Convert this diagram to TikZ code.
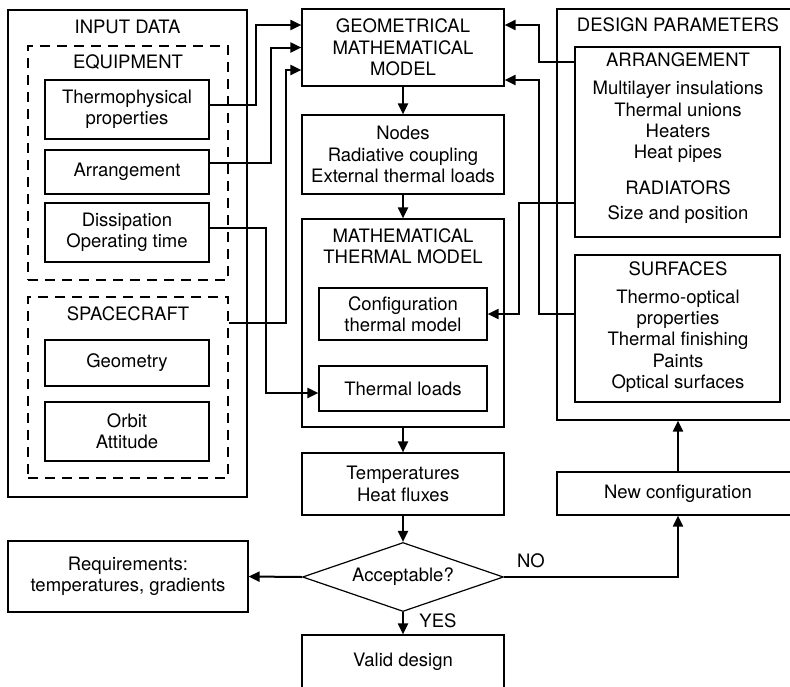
\documentclass[tikz,border=0pt]{standalone}
\usepackage{fontspec}
\setmainfont{TeX Gyre Heros}
\usetikzlibrary{shapes.geometric,arrows.meta,calc}
\newcommand\fsz{\fontsize{18.5}{21.3}\selectfont}
\begin{document}
\begin{tikzpicture}[x=1pt,y=-1pt,
  bx/.style={draw,line width=1.2pt,inner sep=0pt,align=center,font=\fsz},
  dbx/.style={bx,dash pattern=on 10pt off 7pt},
  txt/.style={inner sep=0pt,align=center,font=\fsz},
  arr/.style={line width=2pt,-{Triangle[length=11pt,width=10pt]}},
  ln/.style={line width=2pt}]
\useasboundingbox (0,0) rectangle (790,686);
% ---------- INPUT DATA ----------
\node[bx,minimum width=239pt,minimum height=487pt] (input) at (127.5,253.5) {};
\node[txt] (inputT) at (127.5,27) {INPUT DATA};
\node[dbx,minimum width=200pt,minimum height=234pt] (equip) at (128,163) {};
\node[txt] (equipT) at (128,62) {EQUIPMENT};
\node[bx,minimum width=164pt,minimum height=59pt] (thermo) at (127,109.5) {Thermophysical\\properties};
\node[bx,minimum width=164pt,minimum height=44pt] (arrang) at (127,172) {Arrangement};
\node[bx,minimum width=164pt,minimum height=59pt] (dissip) at (127,232.5) {Dissipation\\Operating time};
\node[dbx,minimum width=200pt,minimum height=181pt] (space) at (128,387.5) {};
\node[txt] (spaceT) at (128,314) {SPACECRAFT};
\node[bx,minimum width=164pt,minimum height=46pt] (geom) at (127,363) {Geometry};
\node[bx,minimum width=164pt,minimum height=59pt] (orbit) at (127,431.5) {Orbit\\Attitude};
% ---------- centre column ----------
\node[bx,minimum width=202pt,minimum height=77pt] (gmm) at (403,47.5) {GEOMETRICAL\\MATHEMATICAL\\MODEL};
\node[bx,minimum width=202pt,minimum height=79pt] (nodes) at (403,154.5) {Nodes\\Radiative coupling\\External thermal loads};
\node[bx,minimum width=202pt,minimum height=208pt] (mtm) at (403,323) {};
\node[txt] (mtmT) at (403,246) {MATHEMATICAL\\THERMAL MODEL};
\node[bx,minimum width=168pt,minimum height=52pt] (config) at (403,314) {Configuration\\thermal model};
\node[bx,minimum width=168pt,minimum height=45pt] (tloads) at (403,388.5) {Thermal loads};
\node[bx,minimum width=202pt,minimum height=62pt] (temps) at (403,484) {Temperatures\\Heat fluxes};
\node[draw,line width=1.2pt,diamond,inner sep=0pt,aspect=2.9,minimum width=201pt,minimum height=69pt,font=\fsz] (dia) at (403,577) {Acceptable?};
\node[bx,minimum width=240pt,minimum height=71pt] (req) at (128,576.5) {Requirements:\\temperatures, gradients};
\node[bx,minimum width=202pt,minimum height=62pt] (valid) at (403,666) {};
\node[txt] (validT) at (403,662) {Valid design};
% ---------- DESIGN PARAMETERS ----------
\node[bx,minimum width=242pt,minimum height=411pt] (dp) at (678,214.5) {};
\node[txt] (dpT) at (678,25) {DESIGN PARAMETERS};
\node[bx,minimum width=205pt,minimum height=190pt] (arrbox) at (677.5,142) {};
\node[txt] (arrT) at (678,60) {ARRANGEMENT};
\node[txt] (arrL) at (678,122) {Multilayer insulations\\Thermal unions\\Heaters\\Heat pipes};
\node[txt] (radT) at (678,188) {RADIATORS};
\node[txt] (radL) at (678,215) {Size and position};
\node[bx,minimum width=205pt,minimum height=147pt] (surf) at (677.5,328.5) {};
\node[txt] (surfT) at (678,269) {SURFACES};
\node[txt] (surfL) at (678,341) {Thermo-optical\\properties\\Thermal finishing\\Paints\\Optical surfaces};
\node[bx,minimum width=242pt,minimum height=43pt] (newc) at (678,493.5) {New configuration};
% ---------- connectors ----------
\draw[arr] ([yshift=4.5pt]thermo.east) -- ++(46,0) |- ([yshift=22.5pt]gmm.west);
\draw[arr] ([yshift=9pt]arrang.east) -- ++(61,0) |- (gmm.west);
\draw[arr] ([yshift=64.5pt]space.east) -- ++(57,0) |- ([yshift=-22.5pt]gmm.west);
\draw[arr] ([yshift=4.5pt]dissip.east) -- ++(56,0) |- ([yshift=-4.5pt]tloads.west);
\draw[arr] ([yshift=80pt]arrbox.west) -- ++(-35,0) |- ([yshift=22.5pt]gmm.east);
\draw[arr] ([yshift=14.5pt]surf.west) -- ++(-35,0) |- ([yshift=-32.5pt]gmm.east);
\draw[arr] ([yshift=-61pt]arrbox.west) -- ++(-55,0) |- (config.east);
\draw[arr] (gmm.south) -- (nodes.north);
\draw[arr] (nodes.south) -- (mtm.north);
\draw[arr] (mtm.south) -- (temps.north);
\draw[arr] (temps.south) -- (dia.north);
\draw[arr] (dia.south) -- (valid.north);
\draw[arr] (dia.west) -- (req.east);
\draw[arr] (dia.east) -| (newc.south);
\draw[arr] (newc.north) -- (dp.south);
\node[txt] (no) at (531,561) {NO};
\node[txt] (yes) at (438,621) {YES};
\end{tikzpicture}
\end{document}
